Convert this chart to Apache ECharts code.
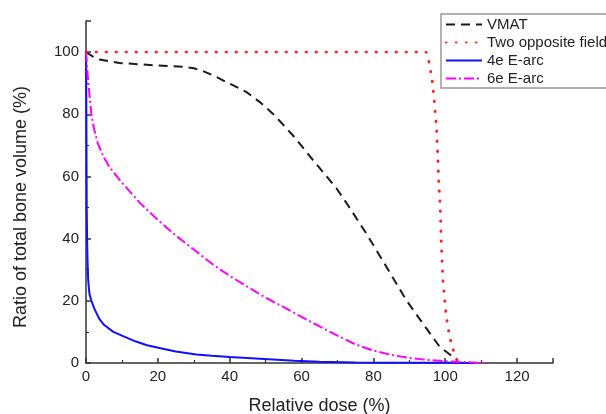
<!DOCTYPE html>
<html>
<head>
<meta charset="utf-8">
<script src="https://cdn.jsdelivr.net/npm/echarts@6/dist/echarts.min.js"></script>
<style>
html,body{margin:0;padding:0;background:#fff;}
#chart{width:606px;height:414px;}
</style>
</head>
<body>
<div id="chart"></div>
<script>
var seriesNames = ['VMAT', 'Two opposite field', '4e E-arc', '6e E-arc'];

var vmatDose  = [0, 2, 3.8, 9.3, 19.5, 27.9, 30, 32.5, 36, 39, 44.6, 48.3, 52, 55, 58, 63.6, 69.7, 72.9, 78, 83.6, 89.1, 94.7, 98.4, 102, 103];
var vmatRatio = [100, 98.5, 97.6, 96.5, 95.7, 95.2, 94.8, 93.9, 92.2, 90.4, 87.2, 84, 80.2, 76.5, 72.7, 64.7, 56.2, 50.8, 41.7, 31, 20.3, 11.2, 5.3, 2.1, 1];

var twoDose  = [0, 94.7, 95.6, 96.5, 97, 97.5, 97.9, 98.2, 98.6, 98.9, 99.4, 100.3, 101.2, 102.6, 103.5];
var twoRatio = [100, 100, 96.3, 89.9, 83.4, 77, 67.4, 57.8, 50.8, 38.5, 25.7, 15, 8.5, 2.7, 0.5];

var e4Dose  = [0, 0.05, 0.1, 0.15, 0.2, 0.3, 0.45, 0.6, 0.8, 1, 1.5, 2.5, 3.8, 5, 7.5, 10, 13.9, 17, 21.4, 25, 30.7, 35, 40, 46, 52, 58, 65, 75, 85, 100, 108];
var e4Ratio = [100, 90, 80, 65, 50, 40, 32, 27, 24, 22, 20, 17, 14, 12.3, 10.1, 8.8, 6.9, 5.7, 4.6, 3.7, 2.7, 2.3, 1.9, 1.5, 1.1, 0.7, 0.4, 0.2, 0.1, 0.05, 0];

var e6Dose  = [0, 0.2, 0.5, 1, 1.5, 2.3, 3.3, 4.8, 6.5, 10, 15, 20, 25, 30, 35, 40, 45, 50, 55, 60, 65, 70, 75, 80, 85, 90, 95, 100, 105, 111];
var e6Ratio = [100, 97, 92, 86, 80, 75, 70.6, 66.5, 63.1, 58, 51.5, 46, 41, 36.5, 32, 28, 24.5, 21, 18, 14.8, 11.8, 8.8, 6, 4, 2.6, 1.6, 1, 0.6, 0.3, 0];

var xTicks = {min: 0, max: 130, interval: 20};
var yTicks = {min: 0, max: 110, interval: 20};

function pairs(xs, ys) { return xs.map(function (x, i) { return [x, ys[i]]; }); }

var FONT = 'Liberation Sans, Arial, sans-serif';
var chart = echarts.init(document.getElementById('chart'), null, {renderer: 'canvas'});

var axisCommon = {
  type: 'value',
  axisLine: {show: true, onZero: false, lineStyle: {color: '#333', width: 1.5}},
  axisTick: {show: true, inside: true, length: 5, lineStyle: {color: '#333', width: 1.5}},
  minorTick: {show: true, splitNumber: 2, length: 3, lineStyle: {color: '#333', width: 1.2}},
  splitLine: {show: false},
  axisLabel: {color: '#222', fontSize: 15, fontFamily: FONT, showMaxLabel: false},
  nameLocation: 'middle',
  nameTextStyle: {color: '#222', fontSize: 18, fontFamily: FONT}
};

chart.setOption({
  animation: false,
  backgroundColor: '#fff',
  grid: {left: 86, right: 53, top: 21, bottom: 51, containLabel: false, outerBoundsMode: 'none'},
  legend: {
    orient: 'vertical',
    left: 441, top: 14,
    itemWidth: 36, itemHeight: 14, itemGap: 3,
    padding: [3, 6, 2, 4],
    borderColor: '#999', borderWidth: 1.5, borderRadius: 0,
    backgroundColor: '#fff',
    itemStyle: {color: 'transparent', borderWidth: 0, opacity: 0},
    textStyle: {color: '#222', fontSize: 15, fontFamily: FONT},
    data: seriesNames
  },
  xAxis: Object.assign({}, axisCommon, {
    min: xTicks.min, max: xTicks.max, interval: xTicks.interval,
    name: 'Relative dose (%)', nameGap: 34,
    axisLabel: Object.assign({}, axisCommon.axisLabel, {margin: 6})
  }),
  yAxis: Object.assign({}, axisCommon, {
    min: yTicks.min, max: yTicks.max, interval: yTicks.interval,
    name: 'Ratio of total bone volume (%)', nameGap: 56,
    nameTextStyle: Object.assign({}, axisCommon.nameTextStyle, {padding: [0, 30, 0, 0]}),
    axisLabel: Object.assign({}, axisCommon.axisLabel, {margin: 7})
  }),
  series: [
    {name: seriesNames[0], type: 'line', showSymbol: false, symbol: 'none', z: 3,
     data: pairs(vmatDose, vmatRatio),
     lineStyle: {color: '#1a1a1a', width: 2, type: [9, 6]}, itemStyle: {color: '#1a1a1a'}},
    {name: seriesNames[1], type: 'line', showSymbol: false, symbol: 'none', z: 4,
     data: pairs(twoDose, twoRatio),
     lineStyle: {color: '#ff2020', width: 2.8, type: [0.5, 9.5], cap: 'round'}, itemStyle: {color: '#ff2020'}},
    {name: seriesNames[2], type: 'line', showSymbol: false, symbol: 'none', z: 2,
     data: pairs(e4Dose, e4Ratio),
     lineStyle: {color: '#1010ff', width: 2}, itemStyle: {color: '#1010ff'}},
    {name: seriesNames[3], type: 'line', showSymbol: false, symbol: 'none', z: 3,
     data: pairs(e6Dose, e6Ratio),
     lineStyle: {color: '#ff00ff', width: 2, type: [10, 3, 2, 3]}, itemStyle: {color: '#ff00ff'}}
  ]
});
</script>
</body>
</html>
